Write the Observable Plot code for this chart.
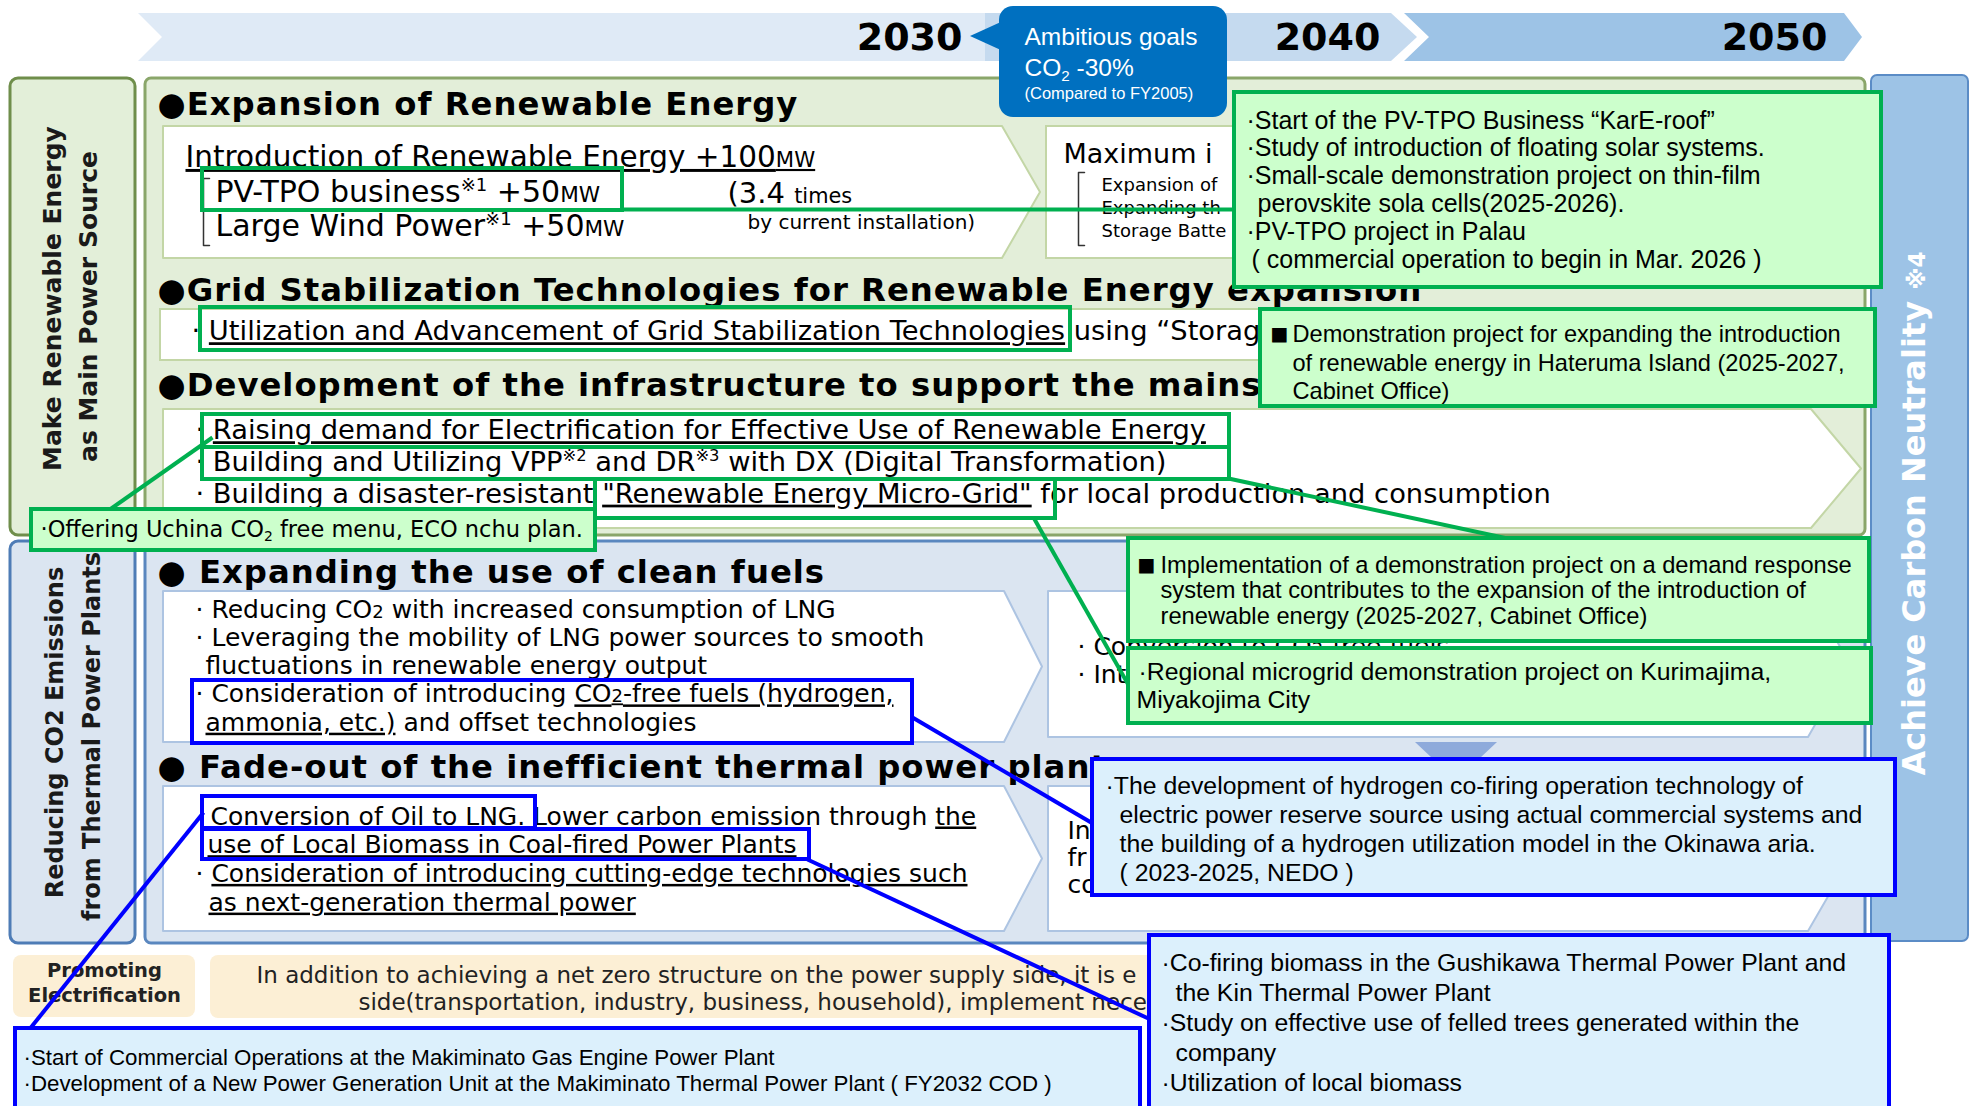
<!DOCTYPE html>
<html><head><meta charset="utf-8">
<script src="https://cdn.jsdelivr.net/npm/d3@7"></script>
<script src="https://cdn.jsdelivr.net/npm/@observablehq/plot@0.6"></script>
<style>html,body{margin:0;padding:0;background:#fff;overflow:hidden}</style>
</head><body><div id="chart"></div>
<script>
// ================= CONTENT =================
const years = ["2030", "2040", "2050"];
const goalText = ["Ambitious goals", "CO{sub:2} -30%", "(Compared to FY2005)"];
const pillarGreen = ["Make Renewable Energy", "as Main Power Source"];
const pillarBlue = ["Reducing CO2 Emissions", "from Thermal Power Plants"];
const carbonText = "Achieve Carbon Neutrality {sm:※4}";
// texts partly hidden by the callouts are kept to their visible part
const headings = [
  "●Expansion of Renewable Energy",
  "●Grid Stabilization Technologies for Renewable Energy expansion",
  "●Development of the infrastructure to support the mains",
  "● Expanding the use of clean fuels",
  "● Fade-out of the inefficient thermal power plant"
];
const renewLines = [
  "{u:Introduction of Renewable Energy +100}{u+sm:MW}",
  "PV-TPO business{sup:※1} +50{sm:MW}",
  "Large Wind Power{sup:※1} +50{sm:MW}"
];
const ratioText = ["(3.4 {sm:times}", "by current installation)"];
const maxTitle = "Maximum i";
const maxLines = ["Expansion of", "Expanding th", "Storage Batte"];
const gridLines = ["· {u:Utilization and Advancement of Grid Stabilization Technologies} using “Storag"];
const infraLines = [
  "· {u:Raising demand for Electrification for Effective Use of Renewable Energy}",
  "· Building and Utilizing VPP{sup:※2} and DR{sup:※3} with DX (Digital Transformation)",
  "· Building a disaster-resistant {u:\"Renewable Energy Micro-Grid\"} for local production and consumption"
];
const cleanLines = [
  "· Reducing CO{sm:2} with increased consumption of LNG",
  "· Leveraging the mobility of LNG power sources to smooth",
  "fluctuations in renewable energy output",
  "· Consideration of introducing {u:CO}{u+sm:2}{u:-free fuels (hydrogen,}",
  "{u:ammonia, etc.)} and offset technologies"
];
const cleanNext = ["· Conversion to CO{sm:2}-free fuels", "· Int"];
const fadeLines = [
  "{u:Conversion of Oil to LNG.} Lower carbon emission through {u:the}",
  "{u:use of Local Biomass in Coal-fired Power Plants}",
  "· {u:Consideration of introducing cutting-edge technologies such}",
  "{u:as next-generation thermal power}"
];
const fadeNext = ["In", "fr", "co"];
const elecLabel = ["Promoting", "Electrification"];
const elecText = [
  "In addition to achieving a net zero structure on the power supply side, it is e",
  "side(transportation, industry, business, household), implement nece"
];
// callout notes
const noteKarE = [
  "·Start of the PV-TPO Business “KarE-roof”",
  "·Study of introduction of floating solar systems.",
  "·Small-scale demonstration project on thin-film",
  "perovskite sola cells(2025-2026).",
  "·PV-TPO project in Palau",
  "( commercial operation to begin in Mar. 2026 )"
];
const noteHateruma = [
  "Demonstration project for expanding the introduction",
  "of renewable energy in Hateruma Island (2025-2027,",
  "Cabinet Office)"
];
const noteUchina = "·Offering Uchina CO{sub:2} free menu, ECO nchu plan.";
const noteDR = [
  "Implementation of a demonstration project on a demand response",
  "system that contributes to the expansion of the introduction of",
  "renewable energy (2025-2027, Cabinet Office)"
];
const noteKurima = ["·Regional microgrid demonstration project on Kurimajima,", "Miyakojima City"];
const noteHydrogen = [
  "·The development of hydrogen co-firing operation technology of",
  "electric power reserve source using actual commercial systems and",
  "the building of a hydrogen utilization model in the Okinawa aria.",
  "( 2023-2025, NEDO )"
];
const noteMakiminato = [
  "·Start of Commercial Operations at the Makiminato Gas Engine Power Plant",
  "·Development of a New Power Generation Unit at the Makiminato Thermal Power Plant ( FY2032 COD )"
];
const noteGushikawa = [
  "·Co-firing biomass in the Gushikawa Thermal Power Plant and",
  "the Kin Thermal Power Plant",
  "·Study on effective use of felled trees generated within the",
  "company",
  "·Utilization of local biomass"
];

// ================= LAYOUT / STYLE =================
const W = 1972, H = 1106;
const DJ = "'DejaVu Sans', Verdana, sans-serif";
const HEAD = "'DejaVu Sans', 'Noto Sans', sans-serif";
const AR = "'Liberation Sans', Arial, Helvetica, sans-serif";
const GREEN = "#00b050", BLUE = "#0000ff";
const marks = [];

const rows = (lines, xs, y0, dy, fs) =>
  lines.map((t, i) => ({t, x: Array.isArray(xs) ? xs[i] : xs, y: y0 + i * dy, fs}));
const rect = (x1, y1, x2, y2, o = {}) => marks.push(Plot.rect([{x1, y1, x2, y2}], {
  x1: "x1", x2: "x2", y1: "y1", y2: "y2",
  fill: o.fill ?? "none", stroke: o.stroke ?? "none", strokeWidth: o.sw ?? 1, rx: o.rx ?? 0
}));
const chevron = (xl, xr, yt, yb, notch, tip, o = {}) => marks.push(Plot.areaX([
  {y: yt, a: xl, b: xr}, {y: (yt + yb) / 2, a: xl + notch, b: xr + tip}, {y: yb, a: xl, b: xr}
], {y: "y", x1: "a", x2: "b", fill: o.fill ?? "#fff", stroke: o.stroke ?? "none", strokeWidth: o.sw ?? 1, curve: "linear"}));
const link = (x1, y1, x2, y2, stroke) => marks.push(Plot.link([{x1, y1, x2, y2}], {
  x1: "x1", y1: "y1", x2: "x2", y2: "y2", stroke, strokeWidth: 4
}));
const bracket = (x, y1, y2) => marks.push(Plot.line([{x: x + 6, y: y1}, {x, y: y1}, {x, y: y2}, {x: x + 6, y: y2}],
  {x: "x", y: "y", stroke: "#333", strokeWidth: 1.5}));
const text = (data, o = {}) => marks.push(Plot.text(data, {
  x: "x", y: "y", text: "t", fontSize: "fs",
  textAnchor: o.anchor ?? "start", lineAnchor: "middle",
  fill: o.fill ?? "#000", fontFamily: o.font ?? DJ, fontWeight: o.weight ?? "normal",
  rotate: o.rotate ?? 0
}));

// --- timeline ---
chevron(138, 990, 13, 61, 24, 22, {fill: "#dfeaf6"});
chevron(985, 1391, 13, 61, 0, 26, {fill: "#c5daef"});
chevron(1404, 1844, 13, 61, 25, 18, {fill: "#9dc3e6"});
text([{t: years[0], x: 962, y: 37, fs: 38}], {anchor: "end", weight: "bold"});
text([{t: years[1], x: 1327, y: 37, fs: 38}, {t: years[2], x: 1774, y: 37, fs: 38}], {anchor: "middle", weight: "bold"});

// --- pillars & panels ---
rect(10, 78, 135, 535, {fill: "#e3efd9", stroke: "#6f8e4b", sw: 3, rx: 8});
rect(10, 541, 135, 943, {fill: "#dbe5f1", stroke: "#4e7cb6", sw: 3, rx: 8});
rect(145, 78, 1865, 535, {fill: "#e3eed9", stroke: "#8aa66a", sw: 3, rx: 6});
rect(145, 541, 1865, 943, {fill: "#dbe5f1", stroke: "#5a87bf", sw: 3, rx: 6});
rect(1871, 75, 1968, 941, {fill: "#9dc3e6", stroke: "#5b8cc6", sw: 2, rx: 6});
text([{t: pillarGreen[0], x: 52, y: 298, fs: 25}, {t: pillarGreen[1], x: 88, y: 306, fs: 25}], {anchor: "middle", weight: "bold", rotate: -90, fill: "#1a1a1a"});
text([{t: pillarBlue[0], x: 55, y: 732, fs: 24}, {t: pillarBlue[1], x: 92, y: 736, fs: 24}], {anchor: "middle", weight: "bold", rotate: -90, fill: "#1a1a1a"});
text([{t: carbonText, x: 1914, y: 513, fs: 32}], {anchor: "middle", weight: "bold", rotate: -90, fill: "#fff"});

// --- white content boxes ---
const gStroke = "#c3d6a6", bStroke = "#adc4e2";
chevron(163, 1002, 126, 258, 0, 38, {stroke: gStroke, sw: 2});
rect(1046, 126, 1800, 258, {fill: "#fff", stroke: gStroke, sw: 2});
rect(160, 309, 1850, 360, {fill: "#fff", stroke: gStroke, sw: 2});
chevron(163, 1811, 409, 528, 0, 50, {stroke: gStroke, sw: 2});
chevron(163, 1004, 591, 742, 0, 38, {stroke: bStroke, sw: 2});
chevron(1048, 1808, 591, 737, 0, 42, {stroke: bStroke, sw: 2});
chevron(163, 1004, 786, 931, 0, 38, {stroke: bStroke, sw: 2});
chevron(1048, 1808, 786, 931, 0, 42, {stroke: bStroke, sw: 2});
marks.push(Plot.areaY([{x: 1415, a: 742, b: 742}, {x: 1432, a: 742, b: 758}, {x: 1480, a: 742, b: 758}, {x: 1497, a: 742, b: 742}],
  {x: "x", y1: "a", y2: "b", fill: "#8eaadb", curve: "linear"}));

// electrification band
rect(13, 955, 195, 1017, {fill: "#fcefd5", rx: 8});
rect(210, 955, 1862, 1018, {fill: "#fcefd5", rx: 8});
text(rows(elecLabel, 104, 970, 25, 19.5), {anchor: "middle", weight: "bold", fill: "#222"});
text(rows(elecText, [256, 358], 975, 27, 23), {fill: "#222"});

// --- headings ---
text([
  {t: headings[0], x: 157, y: 104, fs: 32.3},
  {t: headings[1], x: 157, y: 290, fs: 32.3},
  {t: headings[2], x: 157, y: 385, fs: 32.3},
  {t: headings[3], x: 157, y: 572, fs: 32.3},
  {t: headings[4], x: 157, y: 767, fs: 32.3}
], {font: HEAD, weight: "bold"});

// --- body text ---
bracket(203, 178, 245);
text([{t: renewLines[0], x: 185, y: 157, fs: 29.5}, {t: renewLines[1], x: 215, y: 192, fs: 30}, {t: renewLines[2], x: 215, y: 226, fs: 30}]);
text([{t: ratioText[0], x: 727, y: 193, fs: 29}, {t: ratioText[1], x: 747, y: 222, fs: 20}]);
bracket(1078, 172, 245);
text([{t: maxTitle, x: 1063, y: 154, fs: 27}, ...rows(maxLines, 1101, 185, 23, 18)]);
text(rows(gridLines, 191, 331, 0, 27.3));
text(rows(infraLines, 195, 430, 31.7, 27.3));
text(rows(cleanLines, [195, 195, 205, 195, 205], 609, 28.3, 25));
text(rows(cleanNext, 1077, 646, 28, 25));
text(rows(fadeNext, 1067, 830, 27, 25));
text(rows(fadeLines, [210, 207, 195, 208], 816, 28.7, 25));

// --- highlight frames ---
const gr = (a, b, c, d) => rect(a, b, c, d, {stroke: GREEN, sw: 4});
gr(202, 168, 622, 210);
gr(200, 307, 1070, 350);
gr(202, 414, 1229, 447);
gr(202, 447, 1229, 479);
gr(595, 479, 1055, 518);
const bl = (a, b, c, d) => rect(a, b, c, d, {stroke: BLUE, sw: 4});
bl(192, 680, 912, 743);
bl(202, 796, 535, 828);
bl(202, 829, 809, 859);

// --- connectors ---
link(622, 209, 1236, 209, GREEN);
link(108, 510, 212, 437, GREEN);
link(1228, 478, 1507, 538, GREEN);
link(1033, 517, 1130, 688, GREEN);
link(912, 717, 1094, 824, BLUE);
link(203, 812, 28, 1030, BLUE);
link(807, 859, 1150, 1019, BLUE);

// --- callouts ---
marks.push(Plot.areaX([{y: 21, a: 1003, b: 1012}, {y: 36, a: 970, b: 1012}, {y: 51, a: 1003, b: 1012}],
  {y: "y", x1: "a", x2: "b", fill: "#0070c0", curve: "linear"}));
rect(999, 6, 1227, 117, {fill: "#0070c0", rx: 14});
text([{t: goalText[0], x: 1024, y: 37, fs: 24.5}, {t: goalText[1], x: 1024, y: 68, fs: 24.5}, {t: goalText[2], x: 1024, y: 93, fs: 16.5}], {font: AR, fill: "#fff"});

const gBox = (a, b, c, d) => rect(a, b, c, d, {fill: "#ccffcc", stroke: GREEN, sw: 4});
const bBox = (a, b, c, d) => rect(a, b, c, d, {fill: "#dcf0fc", stroke: BLUE, sw: 4});
gBox(1234, 92, 1881, 287);
text(rows(noteKarE, [1246, 1246, 1246, 1257, 1246, 1251], 120, 27.8, 25), {font: AR});
gBox(1260, 309, 1875, 406);
text(rows(["■"], 1270, 333, 0, 19), {font: DJ});
text(rows(noteHateruma, 1292, 334, 28.5, 23.6), {font: AR});
gBox(31, 509, 595, 550);
text([{t: noteUchina, x: 40, y: 529, fs: 22.5}]);
gBox(1128, 538, 1869, 641);
text(rows(["■"], 1137, 564, 0, 19), {font: DJ});
text(rows(noteDR, 1160, 565, 25.3, 23.7), {font: AR});
gBox(1128, 648, 1871, 723);
text(rows(noteKurima, [1138, 1136], 672, 28, 24.8), {font: AR});
bBox(1092, 759, 1895, 895);
text(rows(noteHydrogen, [1105, 1119, 1119, 1119], 786, 29, 24.8), {font: AR});
bBox(15, 1028, 1140, 1125);
text(rows(noteMakiminato, 23, 1057, 26, 22.3), {font: AR});
bBox(1149, 935, 1889, 1125);
text(rows(noteGushikawa, [1161, 1175, 1161, 1175, 1161], 963, 29.8, 24.8), {font: AR});

// ================= RENDER =================
const chart = Plot.plot({
  width: W, height: H, margin: 0,
  x: {domain: [0, W], axis: null},
  y: {domain: [0, H], axis: null, reverse: true},
  style: {background: "#fff", overflow: "hidden"},
  marks
});
document.getElementById("chart").append(chart);

// heading letter spacing (Meiryo-like width)
chart.querySelectorAll("g").forEach(g => {
  if (g.getAttribute("font-family") === HEAD) g.style.letterSpacing = "1px";
});

// rich text: {u:..} underline, {sup:..}, {sub:..}, {sm:..}
function richText(el) {
  const s = el.textContent;
  if (!/\{[a-z+]+:/.test(s)) return;
  const fs = parseFloat(getComputedStyle(el).fontSize);
  const re = /\{([a-z+]+):([^}]*)\}/g;
  const parts = []; let last = 0, m;
  while ((m = re.exec(s))) {
    if (m.index > last) parts.push(["", s.slice(last, m.index)]);
    parts.push([m[1], m[2]]);
    last = re.lastIndex;
  }
  if (last < s.length) parts.push(["", s.slice(last)]);
  while (el.firstChild) el.removeChild(el.firstChild);
  let cur = 0;
  for (const [k, t] of parts) {
    const ks = k.split("+");
    const ts = document.createElementNS("http://www.w3.org/2000/svg", "tspan");
    ts.textContent = t;
    let shift = 0, scale = 1;
    if (ks.includes("sup")) { shift = -0.38 * fs; scale = 0.6; }
    if (ks.includes("sub")) { shift = 0.2 * fs; scale = 0.62; }
    if (ks.includes("sm")) scale = 0.72;
    if (scale !== 1) ts.setAttribute("font-size", fs * scale);
    if (shift !== cur) { ts.setAttribute("dy", shift - cur); cur = shift; }
    if (ks.includes("u")) ts.style.textDecoration = "underline";
    el.appendChild(ts);
  }
}
chart.querySelectorAll("text").forEach(richText);
</script>
</body></html>
